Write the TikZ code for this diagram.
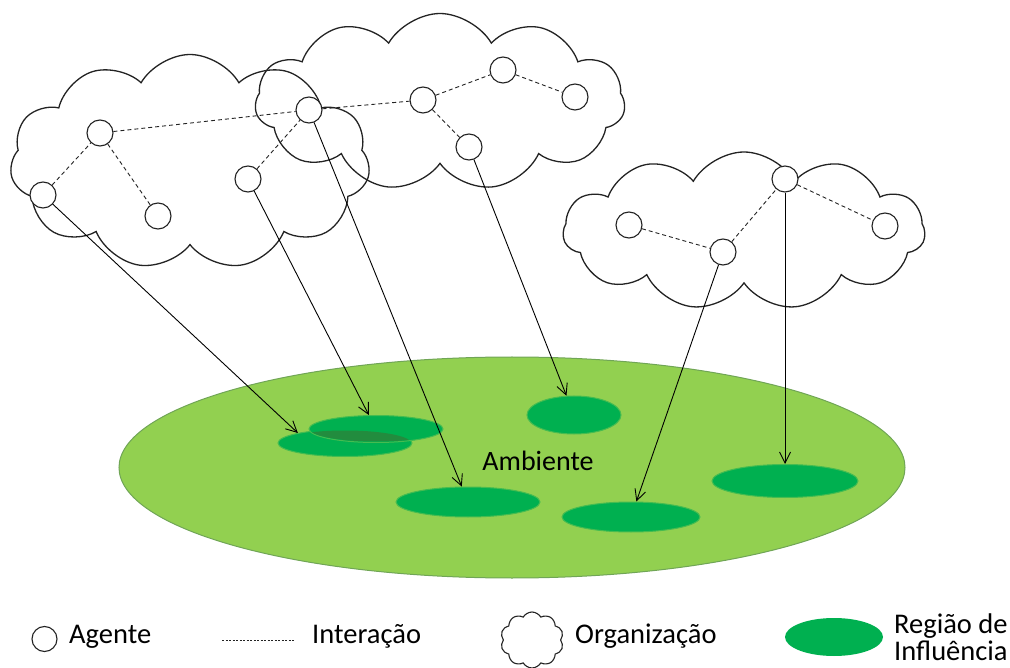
\documentclass[tikz,border=0pt]{standalone}
\usepackage{fontspec}
\setmainfont{Carlito}
\usetikzlibrary{shapes.symbols,shapes.geometric,arrows.meta}
\definecolor{envfill}{RGB}{146,208,80}
\definecolor{envedge}{RGB}{112,165,86}
\definecolor{regfill}{RGB}{0,176,80}
\definecolor{regedge}{RGB}{70,188,80}
\definecolor{regdark}{RGB}{34,140,62}
\definecolor{ink}{RGB}{35,35,35}

\begin{document}
\begin{tikzpicture}[x=1pt,y=-1pt,
  org/.style={cloud, cloud puffs=11, cloud puff arc=120, cloud ignores aspect,
    draw=ink, line width=1.3pt, inner sep=0pt},
  agent/.style={circle, draw=ink, line width=1.1pt, fill=white,
    minimum size=26pt, inner sep=0pt},
  link/.style={draw=ink, line width=0.9pt, dash pattern=on 4pt off 3pt},
  region/.style={ellipse, fill=regfill, draw=regedge, line width=1pt, inner sep=0pt},
  influence/.style={draw=black, line width=0.9pt,
    -{Straight Barb[length=11pt,width=11pt]}},
  lbl/.style={font=\fontsize{28.5}{33}\selectfont, inner sep=0pt, anchor=base west}
]
\useasboundingbox (0,0) rectangle (1010,668);

% environment and regions of influence
\node[ellipse, fill=envfill, draw=envedge, line width=1pt, inner sep=0pt,
  minimum width=786pt, minimum height=221pt] (env) at (512,467.5) {};
\node[font=\fontsize{28}{33}\selectfont, inner sep=0pt, anchor=base] (amb) at (538,470) {Ambiente};

\node[region, minimum width=134pt, minimum height=27pt] (R1) at (345,443) {};
\node[region, minimum width=134pt, minimum height=27pt] (R2) at (376,429) {};
\begin{scope}
  \clip (345,443) ellipse [x radius=66, y radius=12.5];
  \fill[regdark] (376,429) ellipse [x radius=66, y radius=12.5];
\end{scope}
\node[region, minimum width=94pt, minimum height=38pt] (R3) at (574,415) {};
\node[region, minimum width=144pt, minimum height=30pt] (R4) at (468,502) {};
\node[region, minimum width=138pt, minimum height=30pt] (R5) at (631,517) {};
\node[region, minimum width=146pt, minimum height=33pt] (R6) at (785,481) {};

% organizations
\node[org, minimum width=360pt, minimum height=215pt] (C1) at (190,162) {};
\node[org, minimum width=370pt, minimum height=177pt] (C2) at (440,102) {};
\node[org, minimum width=362pt, minimum height=158pt] (C3) at (744,231) {};

% agents
\node[agent] (A1) at (43,195) {};
\node[agent] (A2) at (100,133) {};
\node[agent] (A3) at (158,216) {};
\node[agent] (A4) at (248,179) {};
\node[agent] (A5) at (309,110) {};
\node[agent] (A6) at (423,100) {};
\node[agent] (A7) at (503,70) {};
\node[agent] (A8) at (575,97) {};
\node[agent] (A9) at (469,147) {};
\node[agent] (B1) at (629,225) {};
\node[agent] (B2) at (723,252) {};
\node[agent] (B3) at (785,179) {};
\node[agent] (B4) at (885,226) {};

% interactions
\draw[link] (A1) -- (A2);
\draw[link] (A2) -- (A3);
\draw[link] (A2) -- (A5);
\draw[link] (A4) -- (A5);
\draw[link] (A5) -- (A6);
\draw[link] (A6) -- (A7);
\draw[link] (A7) -- (A8);
\draw[link] (A6) -- (A9);
\draw[link] (B1) -- (B2);
\draw[link] (B2) -- (B3);
\draw[link] (B3) -- (B4);

% influence of agents on the environment
\draw[influence] (A1) -- (R1.168);
\draw[influence] (A4) -- (R2);
\draw[influence] (A5) -- (R4);
\draw[influence] (A9) -- (R3);
\draw[influence] (B2) -- (R5);
\draw[influence] (B3) -- (R6);

% legend
\node[circle, draw=ink, line width=1.1pt, minimum size=25pt, inner sep=0pt] (kA) at (44.5,639) {};
\node[lbl] (tA) at (69,643) {Agente};
\coordinate (kI1) at (222,640);
\coordinate (kI2) at (295,640);
\draw[draw=ink, line width=0.8pt, dash pattern=on 2pt off 1.5pt] (kI1) -- (kI2);
\node[lbl] (tI) at (312,643) {Interação};
\node[cloud, cloud puffs=10, cloud puff arc=120, cloud ignores aspect, draw=ink,
  line width=1.1pt, inner sep=0pt, minimum width=63pt, minimum height=56pt] (kO) at (532,640) {};
\node[lbl] (tO) at (575,643) {Organização};
\node[ellipse, fill=regfill, inner sep=0pt, minimum width=98pt, minimum height=38pt] (kR) at (834,637) {};
\node[lbl] (tR1) at (894,633) {Região de};
\node[lbl] (tR2) at (894,660) {Influência};
\end{tikzpicture}
\end{document}
